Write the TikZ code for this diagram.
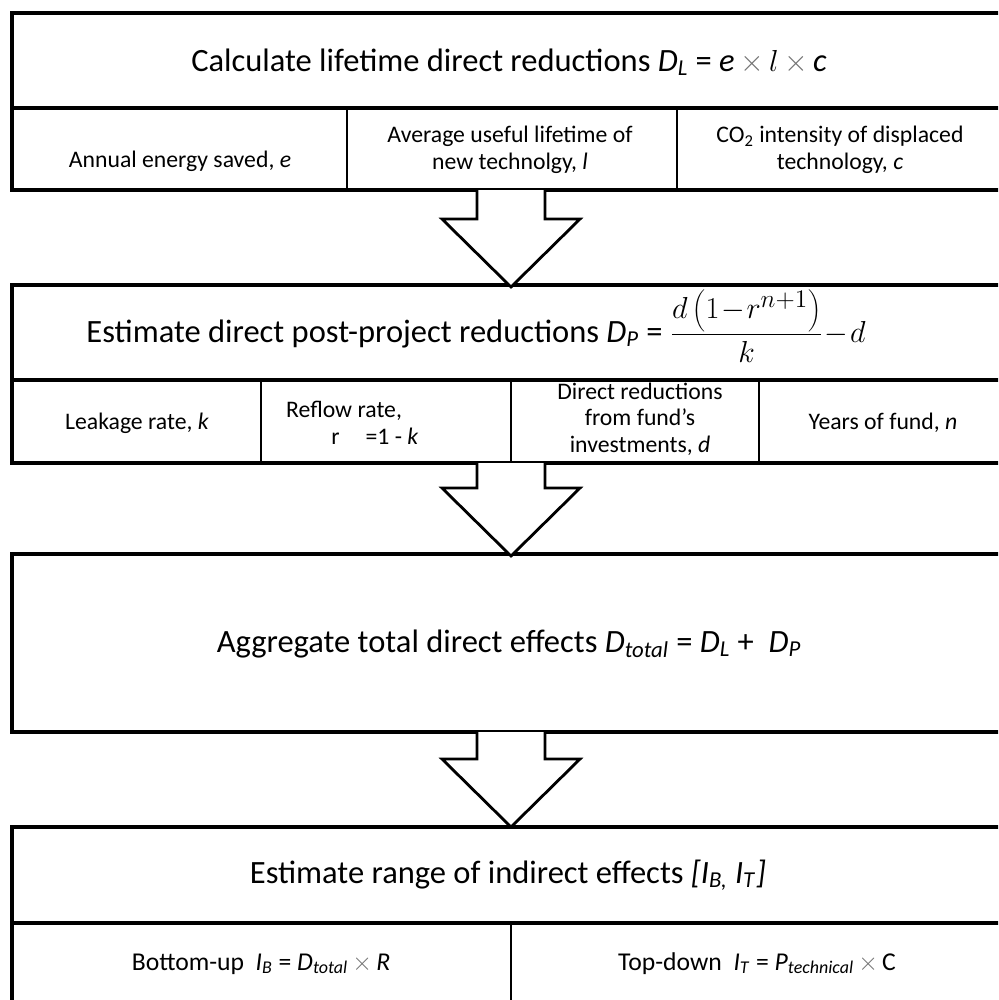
\documentclass[tikz,border=0pt]{standalone}
\usepackage{fontspec}
\setmainfont{Carlito}
\usetikzlibrary{calc}
\tikzset{
  boxline/.style={line width=2.2pt},
  divline/.style={line width=1.6pt},
  blockarrow/.style={line width=1.6pt, fill=white, line join=miter},
  titletext/.style={font=\fontsize{18.5}{22}\selectfont, align=center, anchor=base},
  subtext/.style={font=\fontsize{13.5}{15}\selectfont, align=center, anchor=base},
  lowtext/.style={font=\fontsize{14.6}{17}\selectfont, align=center, anchor=base},
}
\def\blockarrow(#1)(#2){\draw[blockarrow] ($(#1)+(-34,0)$) |- ($(#2)+(-69,-68)$) -- (#2) -- ($(#2)+(69,-68)$) -| ($(#1)+(34,0)$);}
\newcommand{\var}[1]{\textit{#1}}
\newcommand{\sub}[2]{\textit{#1}\textsubscript{\textit{#2}}}
\newcommand{\by}{\,{\color{black!55}$\times$}\,}

\begin{document}
\begin{tikzpicture}[x=0.2mm, y=-0.2mm]
		\useasboundingbox (0,0) rectangle (998,1000);
		\clip (0,0) rectangle (998,1000);
		%%%%% LIFETIME %%%%%
		\draw[boxline] (12,13) rectangle (1010,190);
		\draw[boxline] (12,108) -- (1010,108);
		\draw[divline] (347,108) -- (347,190);
		\draw[divline] (677,108) -- (677,190);
		\node[titletext] (calc) at (509,71) {Calculate lifetime direct reductions \sub{D}{L} = \var{e}\by$l$\by\var{c}};
		\node[subtext] (esave) at (180,167) {Annual energy saved, \var{e}};
		\node[subtext] (life) at (510,169) {Average useful lifetime of\\new technolgy, \var{l}};
		\node[subtext] (co2) at (840,169) {CO\textsubscript{2} intensity of displaced\\technology, \var{c}};
		\coordinate (calcs) at (511,190);
		
		%%%%% POST-PROJECT %%%%%
		\draw[boxline] (12,285) rectangle (1010,463);
		\draw[boxline] (12,380) -- (1010,380);
		\draw[divline] (261,380) -- (261,463);
		\draw[divline] (511,380) -- (511,463);
		\draw[divline] (759,380) -- (759,463);
		\node[titletext] (post) at (476,342) {Estimate direct post-project reductions \sub{D}{P} =\ {\fontsize{19}{21}\selectfont$\displaystyle\frac{d\left(1\!-\!r^{n+1}\right)}{k}\!-\!d$}};
		\node[subtext] (leak) at (137,429) {Leakage rate, \var{k}};
		\node[subtext, align=left, anchor=base west] (reflow) at (280,444) {Reflow rate,\\\hspace{1.9em}r\hspace{1.1em}=1 - \var{k}};
		\node[subtext] (direct) at (640,452) {Direct reductions\\from fund's\\investments, \var{d}};
		\node[subtext] (years) at (883,429) {Years of fund, \var{n}};
		\coordinate (postn) at (511,287);
		\coordinate (posts) at (511,463);
		
		%%%%% TOTAL %%%%%
		\draw[boxline] (12,554) rectangle (1010,732);
		\node[titletext] (agg) at (509,652) {Aggregate total direct effects \sub{D}{total} = \sub{D}{L} +\ \ \sub{D}{P}};
		\coordinate (aggn) at (511,556);
		\coordinate (aggs) at (511,732);
		
		%%%%% INDIRECT %%%%%
		\draw[boxline] (12,827) rectangle (1010,1010);
		\draw[boxline] (12,923) -- (1010,923);
		\draw[divline] (511,923) -- (511,1010);
		\node[titletext] (indirect) at (508,883) {Estimate range of indirect effects \var{[}\sub{I}{B,} \sub{I}{T}\var{]}};
		\node[lowtext] (bottomup) at (261,970) {Bottom-up\ \ \sub{I}{B} = \sub{D}{total}\by\var{R}};
		\node[lowtext] (topdown) at (757,970) {Top-down\ \ \sub{I}{T} = \sub{P}{technical}\by$\mathrm{C}$};
		\coordinate (indirectn) at (511,827);
		
		%%%%% ARROWS %%%%%
		\blockarrow(calcs)(postn)
		\blockarrow(posts)(aggn)
		\blockarrow(aggs)(indirectn)
	\end{tikzpicture}
\end{document}
